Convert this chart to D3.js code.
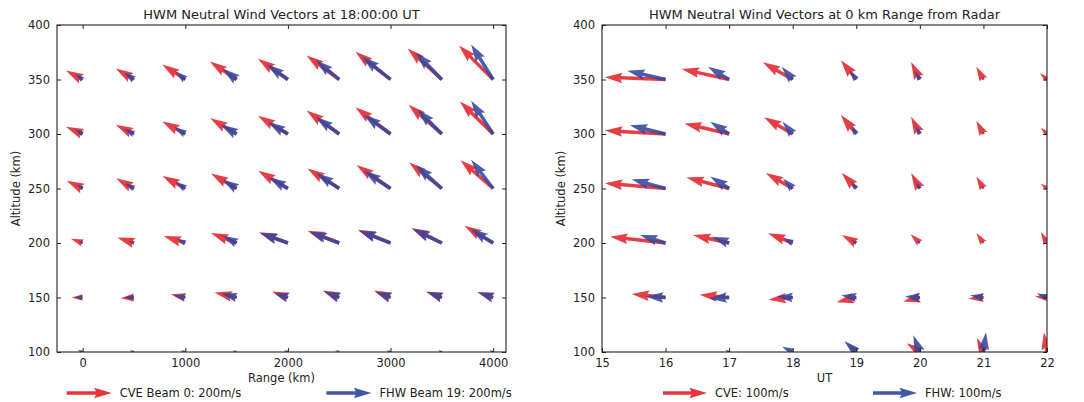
<!DOCTYPE html>
<html><head><meta charset="utf-8">
<script src="https://cdn.jsdelivr.net/npm/d3@7"></script>
<style>
body{margin:0;background:#fff}
text{font-family:"DejaVu Sans",sans-serif;fill:#222}
</style>
</head><body>
<svg id="c" width="1084" height="402"></svg>
<script>
// ---------------- DATA ----------------
const altitudesKm = [100, 150, 200, 250, 300, 350];
const altitudeTicks = [100, 150, 200, 250, 300, 350, 400];

// Left panel: wind vs range at 18:00:00 UT (m/s), rows = altitudes
const rangesKm = [0, 500, 1000, 1500, 2000, 2500, 3000, 3500, 4000];
const rangeTicks = [0, 1000, 2000, 3000, 4000];
const cveRangeU = [
  [-14, -12, -13, -11, -12, -12, -13, -14, -13],
  [-48, -59, -64, -98, -70, -74, -74, -71, -71],
  [-52, -74, -96, -114, -129, -141, -145, -135, -128],
  [-71, -79, -101, -114, -132, -141, -151, -145, -145],
  [-74, -81, -102, -117, -133, -145, -156, -148, -148],
  [-74, -81, -102, -119, -133, -145, -156, -152, -152]
];
const cveRangeV = [
  [4, 4, 5, 5, 4, 4, 5, 4, 5],
  [0, -3, 15, 22, 27, 31, 31, 27, 24],
  [19, 24, 31, 44, 48, 55, 59, 67, 77],
  [34, 46, 56, 67, 79, 89, 104, 116, 126],
  [32, 41, 56, 70, 81, 104, 119, 130, 145],
  [40, 49, 67, 80, 92, 107, 123, 138, 151]
];
const fhwRangeU = [
  [-22, -20, -20, -18, -18, -18, -18, -16, -16],
  [-36, -44, -53, -67, -62, -67, -67, -67, -67],
  [-18, -22, -37, -62, -124, -133, -141, -130, -101],
  [-27, -40, -44, -62, -84, -101, -119, -116, -98],
  [-34, -44, -49, -70, -88, -104, -119, -108, -98],
  [-34, -44, -44, -62, -93, -104, -126, -116, -98]
];
const fhwRangeV = [
  [9, 8, 8, 7, 8, 8, 7, 8, 8],
  [0, 0, 9, 18, 19, 27, 24, 24, 22],
  [9, 9, 19, 32, 44, 50, 55, 62, 62],
  [18, 22, 30, 39, 49, 68, 79, 104, 128],
  [21, 22, 30, 41, 52, 76, 86, 108, 148],
  [25, 30, 36, 48, 67, 86, 101, 119, 156]
];

// Right panel: wind vs UT at 0 km range (m/s), rows = altitudes
const utHours = [16, 17, 18, 19, 20, 21, 22];
const utTicks = [15, 16, 17, 18, 19, 20, 21, 22];
const cveTimeU = [
  [-2, -5, -7, -18, -30, -15, -7],
  [-77, -67, -55, -45, -38, -34, -27],
  [-126, -82, -56, -33, -21, -16, -14],
  [-138, -97, -61, -33, -20, -16, -14],
  [-138, -102, -65, -35, -20, -16, -14],
  [-138, -108, -68, -35, -20, -16, -16]
];
const cveTimeV = [
  [1, 2, 5, 18, 20, 32, 45],
  [8, 6, -5, -11, -9, -3, 2],
  [14, 18, 22, 18, 20, 23, 25],
  [12, 25, 35, 36, 35, 27, 11],
  [8, 24, 38, 43, 39, 30, 14],
  [5, 24, 39, 44, 40, 29, 14]
];
const fhwTimeU = [
  [-2, -9, -24, -27, -15, 6, -2],
  [-45, -45, -36, -34, -34, -30, -23],
  [-58, -40, -22, -11, -7, -2, -2],
  [-77, -43, -22, -11, -9, -2, -2],
  [-81, -43, -23, -11, -9, -2, -2],
  [-87, -48, -25, -15, -11, -2, -5]
];
const fhwTimeV = [
  [1, 5, 12, 25, 38, 45, 5],
  [2, -2, 2, 5, 2, 5, 9],
  [18, 14, 11, 7, 7, 5, 2],
  [21, 27, 23, 16, 14, 7, 2],
  [20, 28, 28, 20, 17, 7, 2],
  [20, 29, 29, 20, 18, 7, 5]
];

const titles = ["HWM Neutral Wind Vectors at 18:00:00 UT", "HWM Neutral Wind Vectors at 0 km Range from Radar"];
const xLabels = ["Range (km)", "UT"];
const yLabel = "Altitude (km)";
const keyLabels = [["CVE Beam 0: 200m/s", "FHW Beam 19: 200m/s"], ["CVE: 100m/s", "FHW: 100m/s"]];
const keySpeeds = [200, 100];

// ---------------- DRAW ----------------
const RED = "#e4232b", BLUE = "#33469e";
const svg = d3.select("#c");
const plotTop = 25, plotBottom = 352;

const panels = [
  {x0: 57, x1: 506, dom: [-250, 4125], xs: rangesKm, ticks: rangeTicks, pxPerMs: 0.225,
   cu: cveRangeU, cv: cveRangeV, fu: fhwRangeU, fv: fhwRangeV, keyFrac: [0.0216, 0.60]},
  {x0: 602, x1: 1047, dom: [15, 22], xs: utHours, ticks: utTicks, pxPerMs: 0.44,
   cu: cveTimeU, cv: cveTimeV, fu: fhwTimeU, fv: fhwTimeV, keyFrac: [0.137, 0.609]}
];

function arrowPoints(L, w) {
  const hl = 5 * w, hal = 4.5 * w, hw = 1.5 * w, sw = 0.5 * w;
  if (L >= hl) {
    return [[0, -sw], [L - hal, -sw], [L - hl, -hw], [L, 0], [L - hl, hw], [L - hal, sw], [0, sw]];
  }
  const s = L / hl;
  return [[0, -sw], [hl - hal, -sw], [0, -hw], [hl, 0], [0, hw], [hl - hal, sw], [0, sw]]
    .map(p => [p[0] * s, p[1] * s]);
}
function arrowPath(tx, ty, dx, dy, w) {
  const L = Math.hypot(dx, dy);
  if (L < 0.01) return "";
  const a = Math.atan2(dy, dx), c = Math.cos(a), s = Math.sin(a);
  const pts = arrowPoints(L, w).map(([px, py]) => [tx + px * c - py * s, ty + px * s + py * c]);
  return "M" + pts.map(p => p[0].toFixed(2) + "," + p[1].toFixed(2)).join("L") + "Z";
}

const W_SHAFT = 3.5;

panels.forEach((P, pi) => {
  const x = d3.scaleLinear().domain(P.dom).range([P.x0, P.x1]);
  const y = d3.scaleLinear().domain([100, 400]).range([plotBottom, plotTop]);
  const g = svg.append("g");

  const clipId = "clip" + pi;
  svg.append("clipPath").attr("id", clipId).append("rect")
    .attr("x", P.x0).attr("y", plotTop).attr("width", P.x1 - P.x0).attr("height", plotBottom - plotTop);

  const vg = g.append("g").attr("clip-path", `url(#${clipId})`);
  const series = [
    {u: P.cu, v: P.cv, color: RED},
    {u: P.fu, v: P.fv, color: BLUE}
  ];
  series.forEach(S => {
    const recs = [];
    altitudesKm.forEach((alt, r) => {
      P.xs.forEach((xv, c) => {
        recs.push({tx: x(xv), ty: y(alt), dx: S.u[r][c] * P.pxPerMs, dy: -S.v[r][c] * P.pxPerMs});
      });
    });
    vg.selectAll(null).data(recs).enter().append("path")
      .attr("d", d => arrowPath(d.tx, d.ty, d.dx, d.dy, W_SHAFT))
      .attr("fill", S.color).attr("fill-opacity", 0.88);
  });

  // frame
  g.append("rect").attr("x", P.x0).attr("y", plotTop).attr("width", P.x1 - P.x0).attr("height", plotBottom - plotTop)
    .attr("fill", "none").attr("stroke", "#222").attr("stroke-width", 1.1);

  // axes with inward ticks
  const axB = d3.axisBottom(x).tickValues(P.ticks).tickSize(-4).tickPadding(7).tickFormat(d3.format("d"));
  const axT = d3.axisTop(x).tickValues(P.ticks).tickSize(-4).tickFormat("");
  const axL = d3.axisLeft(y).tickValues(altitudeTicks).tickSize(-4).tickPadding(7).tickFormat(d3.format("d"));
  const axR = d3.axisRight(y).tickValues(altitudeTicks).tickSize(-4).tickFormat("");
  [[axB, `translate(0,${plotBottom})`], [axT, `translate(0,${plotTop})`], [axL, `translate(${P.x0},0)`], [axR, `translate(${P.x1},0)`]]
    .forEach(([ax, tr]) => {
      const a = g.append("g").attr("transform", tr).call(ax);
      a.select(".domain").remove();
      a.selectAll("line").attr("stroke", "#222");
      a.selectAll("text").style("font-family", '"DejaVu Sans",sans-serif').style("font-size", "11.5px").attr("fill", "#222");
    });

  // title and labels
  const cx = (P.x0 + P.x1) / 2;
  g.append("text").attr("x", cx).attr("y", 19).attr("text-anchor", "middle").style("font-size", "13px").text(titles[pi]);
  g.append("text").attr("x", cx).attr("y", 382).attr("text-anchor", "middle").style("font-size", "11.5px").text(xLabels[pi]);
  g.append("text").attr("transform", `translate(${P.x0 - 37},${(plotTop + plotBottom) / 2}) rotate(-90)`)
    .attr("text-anchor", "middle").style("font-size", "11.5px").text(yLabel);

  // quiver keys
  const keyLen = keySpeeds[pi] * P.pxPerMs;
  [RED, BLUE].forEach((col, k) => {
    const tx = P.x0 + P.keyFrac[k] * (P.x1 - P.x0);
    const ky = 393;
    g.append("path").attr("d", arrowPath(tx, ky, keyLen, 0, W_SHAFT)).attr("fill", col).attr("fill-opacity", 0.92);
    g.append("text").attr("x", tx + keyLen + 8).attr("y", ky + 4).style("font-size", "11.5px").text(keyLabels[pi][k]);
  });
});
</script>
</body></html>
